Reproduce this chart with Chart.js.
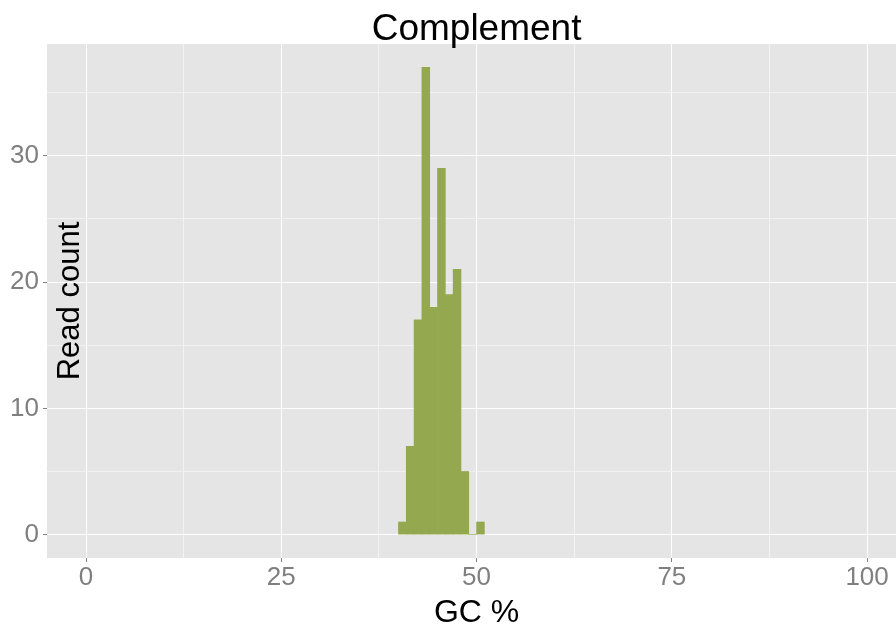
<!DOCTYPE html>
<html>
<head>
<meta charset="utf-8">
<script src="https://cdn.jsdelivr.net/npm/chart.js@4/dist/chart.umd.min.js"></script>
<style>
  html, body { margin: 0; padding: 0; background: #ffffff; }
  #wrap { width: 896px; height: 628px; position: relative; }
</style>
</head>
<body>
<div id="wrap"><canvas id="chart" width="896" height="628"></canvas></div>
<script>
// GC content histogram: 1 % wide bins, values are bin centres
const gcPercent = [40.5, 41.5, 42.5, 43.5, 44.5, 45.5, 46.5, 47.5, 48.5, 49.5, 50.5];
const readCount = [1, 7, 17, 37, 18, 29, 19, 21, 5, 0, 1];

// axis ticks (major ones carry labels, minor ones only a faint grid line)
const xMajorTicks = [0, 25, 50, 75, 100];
const xMinorTicks = [12.5, 37.5, 62.5, 87.5];
const yMajorTicks = [0, 10, 20, 30];
const yMinorTicks = [5, 15, 25, 35];

const FONT = "'Liberation Sans', Arial, Helvetica, sans-serif";
const PANEL_BG = '#E5E5E5';
const GRID_MAJOR = '#FFFFFF';
const GRID_MINOR = '#F2F2F2';
const TICK_GREY = '#7F7F7F';
const BAR_FILL = '#94A850';

// the panel keeps its full 0..100 range (plus 5 % padding) even where the canvas cuts it
const X_FULL_MIN = -5, X_FULL_MAX = 105;

function tickSet(major, minor) {
  return major.concat(minor).sort((a, b) => a - b).map(v => ({ value: v }));
}

function isMajor(list, c) {
  return !!(c && c.tick && list.includes(c.tick.value));
}

const panelBackground = {
  id: 'panelBackground',
  beforeDraw(chart) {
    const { ctx, chartArea } = chart;
    ctx.save();
    ctx.fillStyle = PANEL_BG;
    ctx.fillRect(chartArea.left, chartArea.top,
                 chartArea.right - chartArea.left, chartArea.bottom - chartArea.top);
    ctx.restore();
  }
};

// plot title and axis titles, centred on the full panel
const panelTitles = {
  id: 'panelTitles',
  afterDraw(chart) {
    const { ctx, chartArea, scales } = chart;
    const cx = (scales.x.getPixelForValue(X_FULL_MIN) + scales.x.getPixelForValue(X_FULL_MAX)) / 2;
    const cy = (chartArea.top + chartArea.bottom) / 2;
    ctx.save();
    ctx.fillStyle = '#000000';
    ctx.textAlign = 'center';
    ctx.textBaseline = 'alphabetic';

    ctx.font = '37px ' + FONT;
    ctx.fillText('Complement', cx, 40);

    ctx.font = '32px ' + FONT;
    ctx.fillText('GC %', cx, 622);

    ctx.translate(79, cy);
    ctx.rotate(-Math.PI / 2);
    ctx.font = '31px ' + FONT;
    ctx.fillText('Read count', 0, 0);
    ctx.restore();
  }
};

new Chart(document.getElementById('chart'), {
  type: 'bar',
  data: {
    datasets: [{
      data: gcPercent.map((x, i) => ({ x: x, y: readCount[i] })),
      backgroundColor: BAR_FILL,
      borderWidth: 0,
      barPercentage: 1.0,
      categoryPercentage: 1.0
    }]
  },
  options: {
    responsive: false,
    animation: false,
    devicePixelRatio: 1,
    layout: { padding: { left: 0, right: 0, top: 44, bottom: 0 } },
    plugins: {
      legend: { display: false },
      tooltip: { enabled: false },
      title: { display: false }
    },
    scales: {
      x: {
        type: 'linear',
        min: -5,
        max: 103.7,
        offset: false,
        afterBuildTicks(scale) { scale.ticks = tickSet(xMajorTicks, xMinorTicks); },
        afterFit(scale) { scale.height = 70; },
        ticks: {
          autoSkip: false,
          maxRotation: 0,
          padding: 0,
          color: TICK_GREY,
          font: { family: FONT, size: 26 },
          callback: v => xMajorTicks.includes(v) ? String(v) : ''
        },
        grid: {
          offset: false,
          color: c => isMajor(xMajorTicks, c) ? GRID_MAJOR : GRID_MINOR,
          tickColor: c => isMajor(xMajorTicks, c) ? TICK_GREY : 'rgba(0,0,0,0)',
          lineWidth: 1,
          tickLength: 4,
          drawTicks: true
        },
        border: { display: false },
        title: { display: false }
      },
      y: {
        type: 'linear',
        min: -1.85,
        max: 38.85,
        afterBuildTicks(scale) { scale.ticks = tickSet(yMajorTicks, yMinorTicks); },
        afterFit(scale) { scale.width = 47; },
        ticks: {
          autoSkip: false,
          padding: 4,
          color: TICK_GREY,
          font: { family: FONT, size: 26 },
          callback: v => yMajorTicks.includes(v) ? String(v) : ''
        },
        grid: {
          offset: false,
          color: c => isMajor(yMajorTicks, c) ? GRID_MAJOR : GRID_MINOR,
          tickColor: c => isMajor(yMajorTicks, c) ? TICK_GREY : 'rgba(0,0,0,0)',
          lineWidth: 1,
          tickLength: 4,
          drawTicks: true
        },
        border: { display: false }
      }
    }
  },
  plugins: [panelBackground, panelTitles]
});
</script>
</body>
</html>
